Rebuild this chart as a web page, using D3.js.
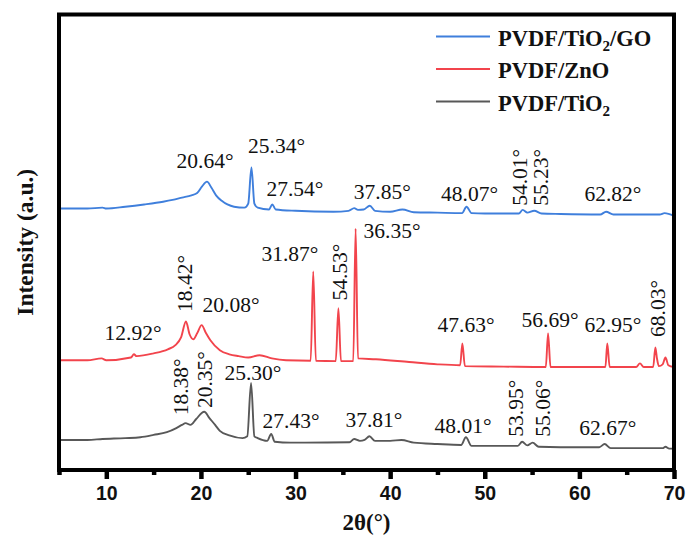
<!DOCTYPE html>
<html>
<head>
<meta charset="utf-8">
<script src="https://cdnjs.cloudflare.com/ajax/libs/d3/7.8.5/d3.min.js"></script>
<style>
    body { margin: 0; background: #fff; }
    svg { display: block; }
</style>
</head>
<body>
<div id="chart"></div>
<script>
// 2theta (deg) and intensity (a.u., stacked)
var tio2GO = [
    [5, 574], [8, 574], [9.6, 576], [10, 574], [12, 578], [14, 583], [16, 589], [17, 593], [18, 598],
    [19.0, 603], [19.6, 608], [20.1, 622], [20.64, 633], [21.1, 620], [21.6, 603], [22.2, 591],
    [22.8, 583], [23.5, 578], [24.6, 576], [25.0, 585], [25.34, 664], [25.65, 585], [26.0, 576],
    [27.2, 572], [27.54, 583], [27.9, 572], [30, 569], [34, 567], [35.6, 569], [36.2, 575],
    [36.6, 571], [37.2, 572], [37.85, 580], [38.4, 569], [40, 567], [41.3, 572], [42.5, 566],
    [45, 565], [47.6, 564], [48.07, 578], [48.6, 564], [50, 563], [53.6, 563], [54.01, 571],
    [54.5, 565], [55.23, 569], [56, 563], [58, 562], [62.2, 561], [62.82, 567], [63.6, 561],
    [66, 561], [68.5, 561], [69, 564], [70, 558]
];
var zno = [
    [5, 241], [8, 241], [9.5, 245], [10, 241], [12.6, 247], [12.92, 254], [13.2, 250], [15, 256],
    [16.5, 265], [17.3, 274], [17.9, 291], [18.42, 326], [18.8, 298], [19.2, 287], [19.6, 300],
    [20.08, 318], [20.5, 302], [21.0, 285], [22.0, 263], [23.0, 254], [24.0, 250], [25.0, 247],
    [26.2, 252], [27.5, 245], [29, 241], [31.6, 240], [31.87, 436], [32.15, 240], [34.25, 239],
    [34.53, 355], [34.8, 239], [36.1, 239], [36.35, 530], [36.6, 245], [38.5, 243], [42, 237],
    [45, 232], [47.4, 230], [47.63, 278], [47.9, 228], [52, 227], [56.45, 226], [56.69, 300],
    [56.95, 226], [60, 226], [62.75, 226], [62.95, 278], [63.2, 226], [66.0, 226], [66.4, 234],
    [66.8, 226], [67.8, 226], [68.03, 269], [68.2, 245], [68.4, 228], [68.8, 232], [69.1, 247],
    [69.4, 230], [70, 226]
];
var tio2 = [
    [5, 66], [8, 66], [9.6, 68], [12, 70], [13.6, 72], [15, 77], [16.4, 83], [17.4, 92],
    [18.0, 99], [18.38, 103], [18.9, 99], [19.5, 112], [20.35, 128], [20.9, 114], [21.5, 99],
    [22.0, 86], [23.0, 76], [24.4, 70], [24.9, 74], [25.30, 191], [25.65, 74], [26.0, 70],
    [27.0, 64], [27.43, 79], [27.8, 62], [29.5, 60], [31, 60], [35.7, 61], [36.2, 68],
    [36.8, 64], [37.3, 66], [37.81, 74], [38.4, 64], [40, 64], [41.2, 66], [42.5, 60], [45, 57],
    [47.5, 55], [48.01, 72], [48.6, 53], [50, 53], [53.5, 53], [53.95, 62], [54.5, 54],
    [55.06, 60], [55.7, 51], [58, 50], [62.1, 50], [62.67, 57], [63.3, 48], [66, 48],
    [68.8, 48], [69.1, 51], [69.5, 47], [70, 47]
];

// peak labels: text, 2theta and intensity of anchor, rotated or not
var labelsGO = [
    ["20.64°", 20.43, 664, 0], ["25.34°", 27.99, 697, 0], ["27.54°", 29.94, 602, 0],
    ["37.85°", 39.17, 596, 0], ["48.07°", 48.39, 591, 0], ["54.01°", 54.46, 580, 1],
    ["55.23°", 56.68, 580, 1], ["62.82°", 63.55, 591, 0]
];
var labelsZnO = [
    ["12.92°", 12.82, 286, 0], ["18.42°", 19.06, 347, 1], ["20.08°", 23.18, 347, 0],
    ["31.87°", 29.41, 458, 0], ["54.53°", 35.44, 372, 1], ["36.35°", 40.2, 510, 0],
    ["47.63°", 48.02, 303, 0], ["56.69°", 56.9, 315, 0], ["62.95°", 63.55, 303, 0],
    ["68.03°", 69.05, 292, 1]
];
var labelsTiO2 = [
    ["18.38°", 18.63, 120, 1], ["20.35°", 21.17, 136, 1], ["25.30°", 25.5, 197, 0],
    ["27.43°", 29.52, 92, 0], ["37.81°", 38.29, 94, 0], ["48.01°", 47.7, 82, 0],
    ["53.95°", 54.04, 73, 1], ["55.06°", 56.9, 73, 1], ["62.67°", 63.0, 77, 0]
];

var xTicks = [10, 20, 30, 40, 50, 60, 70];
var xMinorTicks = [5, 15, 25, 35, 45, 55, 65];

var svgWidth = 686;
var svgHeight = 543;
var margin = { top: 14.5, right: 12, bottom: 73, left: 59 };
var width = svgWidth - margin.left - margin.right;
var height = svgHeight - margin.top - margin.bottom;

var svg = d3.select("#chart")
    .append("svg")
    .attr("width", svgWidth)
    .attr("height", svgHeight);
var g = svg.append("g")
    .attr("transform", `translate(${margin.left}, ${margin.top})`);

var xScale = d3.scaleLinear().domain([5, 70]).range([0, width]);
var yScale = d3.scaleLinear().domain([0, 1000]).range([height, 0]);

var line = d3.line()
    .curve(d3.curveMonotoneX)
    .x(d => xScale(d[0]))
    .y(d => yScale(d[1]));

var series = [
    { data: tio2GO, labels: labelsGO, color: "#3f7fdc" },
    { data: zno, labels: labelsZnO, color: "#f2444c" },
    { data: tio2, labels: labelsTiO2, color: "#585858" }
];

series.forEach(s => {
    g.append("path")
        .datum(s.data)
        .attr("fill", "none")
        .attr("stroke", s.color)
        .attr("stroke-width", 1.9)
        .attr("stroke-linejoin", "round")
        .attr("d", line);

    // peak annotations
    g.selectAll(null)
        .data(s.labels)
        .enter()
        .append("text")
        .text(d => d[0])
        .attr("font-family", "'Liberation Serif', 'Times New Roman', serif")
        .attr("font-size", 21.5)
        .attr("fill", "#111")
        .attr("text-anchor", d => d[3] ? "start" : "middle")
        .attr("transform", d => {
            var t = `translate(${xScale(d[1])}, ${yScale(d[2])})`;
            return d[3] ? t + " rotate(-90)" : t;
        });
});

// frame
g.append("rect")
    .attr("width", width)
    .attr("height", height)
    .attr("fill", "none")
    .attr("stroke", "#000")
    .attr("stroke-width", 4);

// ticks on the bottom axis
var xAxis = d3.axisBottom(xScale)
    .tickValues(xTicks)
    .tickSize(9)
    .tickPadding(7)
    .tickFormat(d3.format("d"));
var axisG = g.append("g")
    .attr("transform", `translate(0, ${height})`)
    .call(xAxis);
axisG.select(".domain").remove();
axisG.selectAll(".tick line")
    .attr("stroke", "#000")
    .attr("stroke-width", 4.5);
axisG.selectAll(".tick text")
    .attr("font-family", "'Liberation Sans', Arial, sans-serif")
    .attr("font-weight", "bold")
    .attr("font-size", 19.5)
    .attr("fill", "#111");

var minorAxis = d3.axisBottom(xScale)
    .tickValues(xMinorTicks)
    .tickSize(5)
    .tickFormat("");
var minorG = g.append("g")
    .attr("transform", `translate(0, ${height})`)
    .call(minorAxis);
minorG.select(".domain").remove();
minorG.selectAll(".tick line")
    .attr("stroke", "#000")
    .attr("stroke-width", 4.5);

// axis titles
g.append("text")
    .text("2θ(°)")
    .attr("x", width / 2)
    .attr("y", height + 60)
    .attr("text-anchor", "middle")
    .attr("font-family", "'Liberation Serif', 'Times New Roman', serif")
    .attr("font-weight", "bold")
    .attr("font-size", 23)
    .attr("fill", "#111");

g.append("text")
    .text("Intensity (a.u.)")
    .attr("transform", `translate(${-26}, ${height / 2}) rotate(-90)`)
    .attr("text-anchor", "middle")
    .attr("font-family", "'Liberation Serif', 'Times New Roman', serif")
    .attr("font-weight", "bold")
    .attr("font-size", 23.5)
    .attr("fill", "#111");

// legend
var legendItems = [
    { name: "PVDF/TiO", sub: "2", tail: "/GO", color: "#3f7fdc" },
    { name: "PVDF/ZnO", sub: "", tail: "", color: "#f2444c" },
    { name: "PVDF/TiO", sub: "2", tail: "", color: "#585858" }
];
var legend = g.append("g")
    .attr("transform", "translate(377, 22)");
legendItems.forEach((item, i) => {
    var row = legend.append("g")
        .attr("transform", `translate(0, ${i * 32.5})`);
    row.append("line")
        .attr("x1", 0)
        .attr("x2", 54)
        .attr("stroke", item.color)
        .attr("stroke-width", 2);
    var t = row.append("text")
        .attr("x", 62)
        .attr("y", 9)
        .attr("font-family", "'Liberation Serif', 'Times New Roman', serif")
        .attr("font-weight", "bold")
        .attr("font-size", 22.5)
        .attr("fill", "#111");
    t.append("tspan").text(item.name);
    if (item.sub) {
        t.append("tspan").text(item.sub)
            .attr("font-size", 15)
            .attr("dy", 5);
        t.append("tspan").text(item.tail)
            .attr("dy", -5);
    }
});
</script>
</body>
</html>
